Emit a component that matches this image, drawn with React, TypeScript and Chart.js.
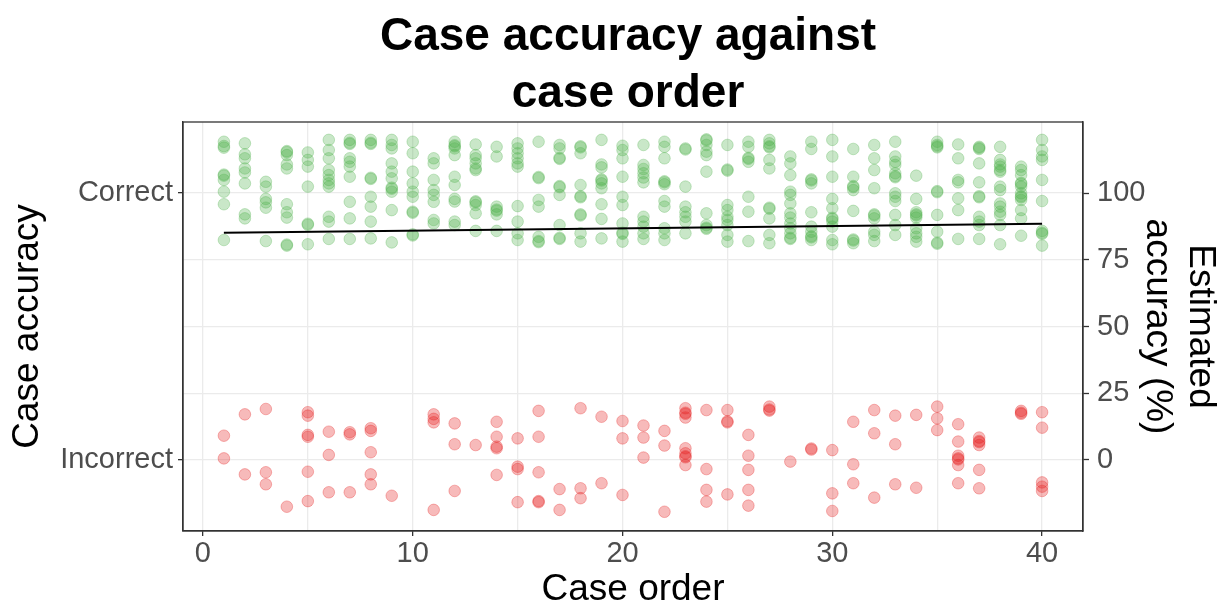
import React, { useEffect, useRef } from "react";
import { Chart, registerables } from "chart.js";

Chart.register(...registerables);

// ---- Data ----
const caseOrder: number[] = [
  1, 2, 3, 4, 5, 6, 7, 8, 9, 10, 11, 12, 13, 14, 15, 16, 17, 18, 19, 20,
  21, 22, 23, 24, 25, 26, 27, 28, 29, 30, 31, 32, 33, 34, 35, 36, 37, 38, 39, 40,
];

// Jittered positions of "Correct" cases (on the percentage scale, centred on 100)
const correctJitter: number[][] = [
  [119.2, 117.6, 117.0, 106.9, 106.5, 104.9, 100.5, 95.8, 82.4],
  [118.6, 114.5, 113.0, 109.2, 107.7, 103.6, 92.0, 90.5],
  [104.2, 102.4, 97.8, 96.5, 94.5, 82.0],
  [115.7, 115.3, 114.2, 110.7, 109.2, 95.8, 92.8, 90.8, 80.7, 80.3],
  [115.2, 112.4, 109.9, 102.4, 88.5, 88.1, 80.8],
  [119.9, 116.1, 113.0, 108.6, 106.7, 104.9, 103.6, 102.4, 91.1, 89.3, 82.8],
  [119.9, 118.8, 118.4, 113.0, 111.7, 109.9, 106.1, 96.7, 90.5, 82.8],
  [119.9, 118.8, 118.4, 105.7, 105.3, 98.6, 94.9, 89.3, 83.0],
  [119.9, 118.0, 116.7, 111.1, 108.0, 105.5, 102.0, 101.6, 100.5, 93.6, 81.5],
  [119.2, 114.9, 108.0, 103.6, 100.5, 98.6, 93.0, 92.6, 84.5, 84.1],
  [113.0, 111.1, 104.9, 101.1, 99.3, 96.7, 89.9, 88.6],
  [119.2, 117.9, 117.5, 116.7, 114.2, 106.1, 103.0, 97.8, 96.8, 89.3, 88.0],
  [118.2, 114.2, 113.0, 111.1, 109.2, 108.6, 96.9, 96.5, 95.5, 92.4, 85.8],
  [117.3, 113.7, 94.9, 93.8, 93.4, 92.0, 85.8],
  [118.6, 116.7, 114.9, 113.0, 111.1, 109.9, 95.1, 89.3, 84.9, 82.4],
  [119.2, 106.0, 105.6, 97.4, 94.9, 83.6, 82.0, 81.6],
  [118.0, 116.7, 113.2, 112.8, 102.6, 102.2, 99.3, 88.0, 83.2, 82.8],
  [117.5, 117.1, 114.9, 103.0, 98.8, 98.4, 92.0, 91.6, 84.9, 81.8],
  [119.9, 110.7, 109.6, 105.1, 104.7, 103.6, 101.8, 95.8, 90.3, 83.0],
  [117.7, 116.1, 113.0, 106.1, 98.6, 95.5, 88.6, 85.1, 84.7, 81.8],
  [118.0, 110.5, 109.0, 107.4, 105.8, 104.0, 91.1, 89.3, 87.4, 84.9, 82.8],
  [119.2, 117.3, 113.0, 104.4, 104.0, 103.3, 97.0, 94.9, 86.8, 84.9, 82.4],
  [116.7, 116.3, 102.4, 94.9, 92.8, 91.1, 89.3, 84.9],
  [120.1, 119.7, 118.0, 115.5, 114.2, 108.0, 92.4, 88.0, 87.0, 86.6],
  [118.0, 108.8, 108.4, 95.5, 93.6, 91.1, 89.9, 88.0, 84.3, 81.8],
  [119.2, 117.3, 113.2, 112.8, 111.7, 98.6, 93.0, 82.0],
  [119.9, 118.6, 117.5, 117.1, 112.4, 109.2, 94.5, 94.1, 90.5, 84.3, 81.2],
  [113.7, 111.1, 106.7, 100.5, 99.3, 96.1, 92.4, 90.8, 88.6, 86.8, 84.9, 83.2, 82.8],
  [119.2, 116.5, 105.1, 104.7, 103.6, 92.8, 87.4, 85.5, 83.8, 83.4, 82.4],
  [119.9, 113.7, 106.1, 97.8, 94.3, 90.7, 90.3, 89.3, 87.4, 82.4, 80.8],
  [116.5, 106.1, 102.6, 102.2, 101.1, 93.3, 82.6, 82.2, 81.2],
  [118.0, 113.0, 108.6, 101.8, 92.0, 91.6, 90.5, 85.5, 84.3, 82.0],
  [119.2, 113.7, 111.7, 110.5, 107.4, 106.3, 105.9, 99.9, 98.6, 97.0, 91.8, 88.0, 84.3],
  [106.5, 97.8, 92.8, 92.0, 91.6, 90.8, 86.8, 84.9, 83.6, 81.8],
  [119.2, 118.0, 117.5, 117.1, 100.7, 100.3, 91.8, 85.5, 81.4, 81.0],
  [118.2, 113.0, 104.9, 104.0, 98.0, 93.6, 82.8],
  [117.3, 116.9, 116.5, 111.1, 104.0, 98.8, 98.4, 91.1, 89.3, 88.0, 82.8],
  [117.3, 112.4, 110.7, 109.9, 108.6, 108.0, 102.4, 101.1, 96.1, 94.9, 93.0, 91.8, 88.0, 80.8],
  [109.9, 108.6, 106.7, 103.8, 103.4, 102.4, 99.9, 98.8, 98.4, 97.4, 93.6, 90.5, 84.0],
  [119.9, 116.1, 113.7, 112.4, 104.9, 97.0, 85.8, 85.1, 84.7, 80.3],
];

// Jittered positions of "Incorrect" cases (centred on 0)
const incorrectJitter: number[][] = [
  [9.1, 0.6],
  [17.1, -5.4],
  [19.1, -4.6, -9.1],
  [-17.5],
  [17.9, 16.6, 9.4, 8.7, -4.4, -15.4],
  [10.6, 1.9, -12.1],
  [10.4, 9.6, -12.1],
  [11.9, 10.9, 2.9, -5.4, -9.1],
  [-13.4],
  [],
  [17.1, 15.4, 14.1, -18.7],
  [13.7, 5.9, -11.6],
  [5.6],
  [14.3, 8.7, 5.0, 4.4, -5.6],
  [8.1, -2.5, -3.4, -15.8],
  [18.4, 8.7, -4.6, -15.4, -15.8],
  [-10.9, -18.7],
  [19.4, -10.6, -14.3],
  [16.2, -8.7],
  [14.6, 8.1, -13.1],
  [12.9, 8.4, 0.9],
  [10.9, 5.4, -19.4],
  [19.4, 17.7, 17.3, 15.9, 4.4, 2.5, 1.4, 1.0, -1.9],
  [18.7, -3.4, -11.2, -15.6],
  [18.7, 14.5, 14.1, -12.9],
  [9.4, 1.6, -3.7, -11.2, -17.1],
  [20.0, 18.9, 18.5],
  [-0.6],
  [4.3, 3.9],
  [3.7, -12.5, -19.1],
  [14.3, -1.6, -8.7],
  [18.7, 10.0, -14.1],
  [16.6, 5.9, -9.1],
  [16.9, -10.4],
  [20.0, 15.6, 11.2],
  [13.4, 6.9, 1.6, 0.6, 0.2, -1.9, -8.7],
  [8.4, 7.1, 6.7, 5.6, -3.7, -10.6],
  [],
  [18.4, 17.7, 17.3],
  [17.9, 12.1, -8.4, -10.0, -11.6],
];

// Fitted trend of estimated accuracy (%)
const trendCase: number[] = [1, 40];
const trendAccuracy: number[] = [85.1, 88.5];

// Tick values / labels
const xLabelTicks: number[] = [0, 10, 20, 30, 40];
const xGridTicks: number[] = [0, 5, 10, 15, 20, 25, 30, 35, 40];
const pctTicks: number[] = [0, 25, 50, 75, 100];
const categoryValues: number[] = [100, 0];
const categoryNames: string[] = ["Correct", "Incorrect"];
const titleLines: string[] = ["Case accuracy against", "case order"];

const FONT = "'Liberation Sans', Arial, Helvetica, sans-serif";
const GREEN = "rgba(77,175,74,0.3)";
const RED = "rgba(228,26,28,0.3)";
const GRID = "#ebebeb";
const AXIS = "#333333";
const TICK_TEXT = "#4d4d4d";

const panelBorder = {
  id: "panelBorder",
  afterDatasetsDraw(chart: any) {
    const { ctx, chartArea } = chart;
    ctx.save();
    ctx.strokeStyle = AXIS;
    ctx.lineWidth = 1.3;
    ctx.strokeRect(
      chartArea.left,
      chartArea.top,
      chartArea.right - chartArea.left,
      chartArea.bottom - chartArea.top
    );
    ctx.restore();
  },
};

const plotTitle = {
  id: "plotTitle",
  afterDraw(chart: any) {
    const { ctx } = chart;
    ctx.save();
    ctx.fillStyle = "#000000";
    ctx.font = `bold 46px ${FONT}`;
    ctx.textAlign = "center";
    ctx.textBaseline = "alphabetic";
    const cx = 628;
    ctx.fillText(titleLines[0], cx, 50);
    ctx.fillText(titleLines[1], cx, 107);
    ctx.restore();
  },
};

export default function App() {
  const canvasRef = useRef<HTMLCanvasElement | null>(null);

  useEffect(() => {
    if (!canvasRef.current) return;

    const correctPts = caseOrder.flatMap((c, i) =>
      correctJitter[i].map((v) => ({ x: c, y: v }))
    );
    const incorrectPts = caseOrder.flatMap((c, i) =>
      incorrectJitter[i].map((v) => ({ x: c, y: v }))
    );
    const trendPts = trendCase.map((c, i) => ({ x: c, y: trendAccuracy[i] }));

    const chart = new Chart(canvasRef.current, {
      type: "scatter",
      data: {
        datasets: [
          {
            type: "line",
            label: "Trend",
            data: trendPts,
            borderColor: "#000000",
            borderWidth: 2,
            pointRadius: 0,
            fill: false,
            order: -1,
            yAxisID: "y",
          } as any,
          {
            label: "Correct",
            data: correctPts,
            backgroundColor: GREEN,
            borderColor: GREEN,
            borderWidth: 1,
            pointRadius: 5.8,
            yAxisID: "y",
          },
          {
            label: "Incorrect",
            data: incorrectPts,
            backgroundColor: RED,
            borderColor: RED,
            borderWidth: 1,
            pointRadius: 5.8,
            yAxisID: "y",
          },
        ],
      },
      options: {
        responsive: false,
        animation: false,
        layout: { padding: { top: 122, left: 0, right: 0, bottom: 0 } },
        plugins: {
          legend: { display: false },
          tooltip: { enabled: false },
          title: { display: false },
        },
        scales: {
          x: {
            type: "linear",
            min: -0.95,
            max: 41.95,
            afterBuildTicks: (s: any) => {
              s.ticks = xGridTicks.map((v) => ({ value: v }));
            },
            afterFit: (s: any) => {
              s.height = 72;
            },
            grid: {
              color: GRID,
              lineWidth: 1.3,
              drawTicks: true,
              tickLength: 5,
              tickWidth: 1.3,
              tickColor: (ctx: any) =>
                ctx.tick && xLabelTicks.includes(ctx.tick.value) ? AXIS : "rgba(0,0,0,0)",
            },
            border: { display: true, color: AXIS, width: 1.3 },
            ticks: {
              autoSkip: false,
              maxRotation: 0,
              padding: 1,
              color: TICK_TEXT,
              font: { family: FONT, size: 29, lineHeight: 1.2 },
              callback: (v: any) => (xLabelTicks.includes(Number(v)) ? String(v) : ""),
            },
            title: {
              display: true,
              text: "Case order",
              color: "#000000",
              font: { family: FONT, size: 37, lineHeight: 0.7 },
              padding: { top: 0, bottom: 0 },
            },
          },
          y: {
            type: "linear",
            position: "left",
            min: -26.6,
            max: 126.6,
            afterBuildTicks: (s: any) => {
              s.ticks = pctTicks.map((v) => ({ value: v }));
            },
            afterFit: (s: any) => {
              s.width = 183;
            },
            grid: {
              color: GRID,
              lineWidth: 1.3,
              drawTicks: true,
              tickLength: 5,
              tickWidth: 1.3,
              tickColor: (ctx: any) =>
                ctx.tick && categoryValues.includes(ctx.tick.value) ? AXIS : "rgba(0,0,0,0)",
            },
            border: { display: true, color: AXIS, width: 1.3 },
            ticks: {
              autoSkip: false,
              padding: 5,
              color: TICK_TEXT,
              font: { family: FONT, size: 29, lineHeight: 1.2 },
              callback: (v: any) => {
                const idx = categoryValues.indexOf(Number(v));
                return idx >= 0 ? categoryNames[idx] : "";
              },
            },
            title: {
              display: true,
              text: "Case accuracy",
              color: "#000000",
              font: { family: FONT, size: 37, lineHeight: 1.15 },
              padding: { top: 7, bottom: 0 },
            },
          },
          y2: {
            type: "linear",
            position: "right",
            min: -26.6,
            max: 126.6,
            afterBuildTicks: (s: any) => {
              s.ticks = pctTicks.map((v) => ({ value: v }));
            },
            afterFit: (s: any) => {
              s.width = 143;
            },
            grid: {
              drawOnChartArea: false,
              drawTicks: true,
              tickLength: 6,
              tickWidth: 1.3,
              tickColor: AXIS,
            },
            border: { display: true, color: AXIS, width: 1.3 },
            ticks: {
              autoSkip: false,
              padding: 8,
              color: TICK_TEXT,
              font: { family: FONT, size: 29, lineHeight: 1.2 },
              callback: (v: any) => String(v),
            },
            title: {
              display: true,
              text: ["Estimated", "accuracy (%)"],
              color: "#000000",
              font: { family: FONT, size: 37, lineHeight: 1.15 },
              padding: { top: 5, bottom: 0 },
            },
          },
        },
      },
      plugins: [panelBorder, plotTitle],
    } as any);

    return () => chart.destroy();
  }, []);

  return (
    <div
      style={{
        position: "fixed",
        left: 0,
        top: 0,
        width: 1226,
        height: 603,
        background: "#ffffff",
      }}
    >
      <canvas ref={canvasRef} width={1226} height={603} style={{ display: "block" }} />
    </div>
  );
}
